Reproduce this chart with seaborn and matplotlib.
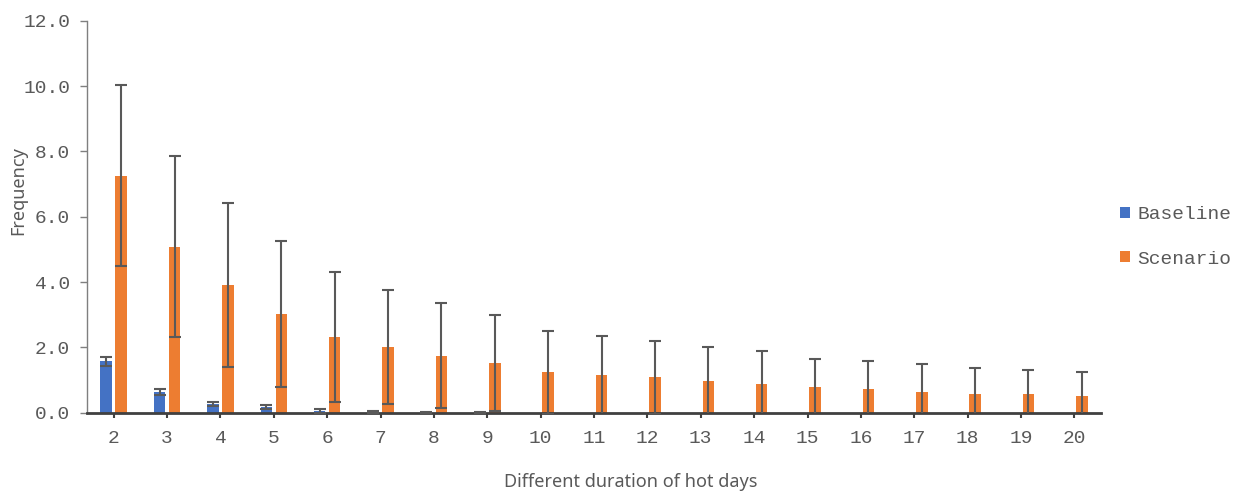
import pandas as pd
import matplotlib
matplotlib.use("Agg")
import matplotlib.pyplot as plt
import seaborn as sns

# data
durations = [str(d) for d in range(2, 21)]
baseline = [1.58, 0.63, 0.27, 0.18, 0.05, 0.02, 0.01, 0.01, 0, 0,
            0, 0, 0, 0, 0, 0, 0, 0, 0]
baseline_err = [0.14, 0.10, 0.07, 0.06, 0.05, 0.02, 0.01, 0.01, 0, 0,
                0, 0, 0, 0, 0, 0, 0, 0, 0]
scenario = [7.25, 5.08, 3.91, 3.02, 2.32, 2.01, 1.74, 1.52, 1.24, 1.15,
            1.08, 0.96, 0.88, 0.79, 0.71, 0.63, 0.58, 0.56, 0.51]
scenario_err = [2.77, 2.77, 2.52, 2.24, 1.99, 1.75, 1.61, 1.46, 1.27, 1.21,
                1.11, 1.06, 1.00, 0.86, 0.87, 0.85, 0.80, 0.75, 0.73]
series = ["Baseline", "Scenario"]
colors = ["#4472C4", "#ED7D31"]

df = pd.DataFrame({
    "duration": durations * 2,
    "series": ["Baseline"] * len(durations) + ["Scenario"] * len(durations),
    "value": baseline + scenario,
})

sns.set_style("white")

fig = plt.figure(figsize=(12.45, 4.96), dpi=100)
ax = fig.add_axes([0.0699, 0.168, 0.8145, 0.790])

sns.barplot(
    data=df, x="duration", y="value", hue="series",
    order=durations, hue_order=series, palette=colors, saturation=1,
    width=0.56, gap=0.23, errorbar=None, linewidth=0, ax=ax
)

# error bars on top of each bar
for cont, vals, errs in zip(ax.containers, [baseline, scenario], [baseline_err, scenario_err]):
    xs, ys, es = [], [], []
    for p, v, e in zip(cont.patches, vals, errs):
        if v > 0:
            xs.append(p.get_x() + p.get_width() / 2)
            ys.append(v)
            es.append(e)
    ax.errorbar(xs, ys, yerr=es, fmt="none", ecolor="#595959",
                elinewidth=1.5, capsize=4.2, capthick=1.5, zorder=3)

ax.set_xlim(-0.5, 18.5)
ax.set_ylim(0, 12)
ax.set_yticks([0, 2, 4, 6, 8, 10, 12])
ax.set_yticklabels([f"{v:.1f}" for v in [0, 2, 4, 6, 8, 10, 12]])

tick_font = "Liberation Mono"
for lbl in ax.get_xticklabels() + ax.get_yticklabels():
    lbl.set_family(tick_font)
    lbl.set_fontsize(14)
    lbl.set_color("#595959")

sns.despine(ax=ax)
ax.spines["left"].set_color("#7f7f7f")
ax.spines["left"].set_linewidth(1.0)
ax.spines["bottom"].set_color("#404040")
ax.spines["bottom"].set_linewidth(2.0)
ax.tick_params(axis="x", direction="out", length=3.5, width=1.5,
               color="#404040", pad=9, bottom=True)
ax.tick_params(axis="y", direction="out", length=5, width=1.0,
               color="#7f7f7f", pad=7, left=True)

ax.set_xlabel("Different duration of hot days", family="Noto Sans",
              fontsize=13, color="#595959")
ax.xaxis.set_label_coords(0.536, -0.177)
ax.xaxis.label.set_va("center")
ax.set_ylabel("Frequency", family="Noto Sans", fontsize=13, color="#595959")
ax.yaxis.set_label_coords(-0.068, 0.568)
ax.yaxis.label.set_va("center")

leg = ax.legend(
    loc="center left", bbox_to_anchor=(0.8996, 0.522),
    bbox_transform=fig.transFigure, frameon=False,
    handlelength=0.5, handleheight=0.5, handletextpad=0.4,
    labelspacing=1.4, borderpad=0, borderaxespad=0,
    prop={"family": tick_font, "size": 14},
)
for t in leg.get_texts():
    t.set_color("#595959")

fig.savefig("out.png", dpi=100)
